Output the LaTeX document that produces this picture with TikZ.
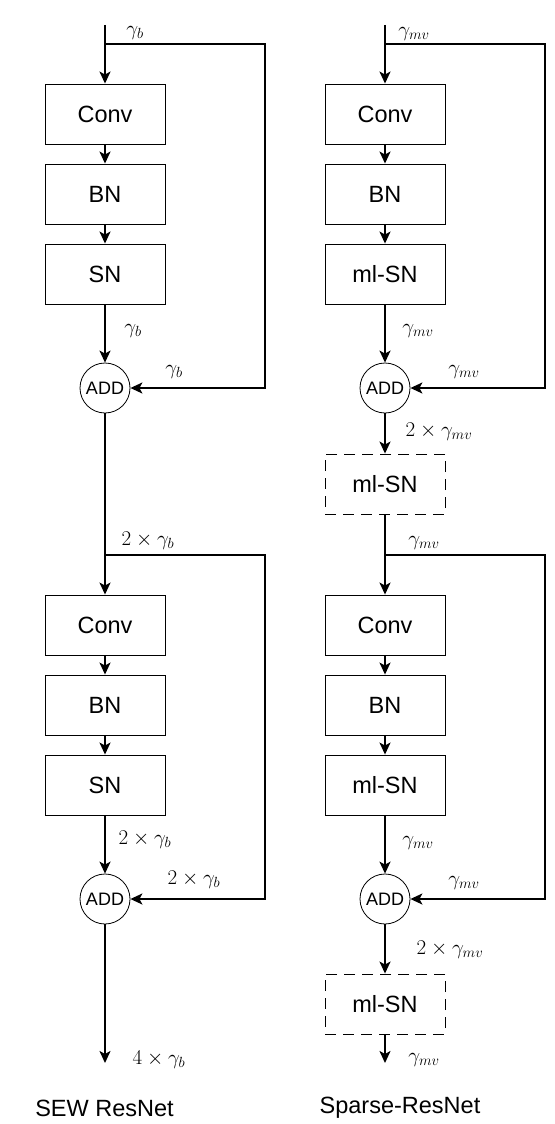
\documentclass[tikz,border=0pt]{standalone}
\usepackage{fix-cm}
\usepackage{fontspec}
\setmainfont{Liberation Sans}
\usetikzlibrary{arrows.meta}
\begin{document}
\begin{tikzpicture}[x=1pt,y=-1pt,
 blk/.style={draw, line width=0.9pt, minimum width=120pt, minimum height=60pt, inner sep=0pt, font=\fontsize{23.5}{26}\selectfont},
 dblk/.style={blk, dash pattern=on 11pt off 7pt},
 addc/.style={draw, circle, line width=0.8pt, minimum size=50pt, inner sep=0pt, font=\fontsize{18}{20}\selectfont},
 conn/.style={line width=1.8pt, -{Stealth[length=12pt,width=11pt,inset=3pt]}},
 lbl/.style={font=\fontsize{21}{24}\selectfont, inner sep=0pt},
 captxt/.style={font=\fontsize{23.5}{26}\selectfont, inner sep=0pt}]
\useasboundingbox (0,0) rectangle (554,1124);

% ---------------- SEW ResNet ----------------
\coordinate (Lin) at (105,25);
\coordinate (Lb1) at (105,44);
\coordinate (Lr1a) at (265,44);
\coordinate (Lr1b) at (265,388);
\node[blk] (Lconv1) at (105,114) {Conv};
\node[blk] (Lbn1) at (105,194) {BN};
\node[blk] (Lsn1) at (105,274) {SN};
\node[addc] (Ladd1) at (105,388) {ADD};
\draw[conn] (Lin) -- (Lconv1);
\draw[conn] (Lconv1) -- (Lbn1);
\draw[conn] (Lbn1) -- (Lsn1);
\draw[conn] (Lsn1) -- (Ladd1);
\draw[conn] (Lb1) -- (Lr1a) -- (Lr1b) -- (Ladd1);

\coordinate (Lb2) at (105,555);
\coordinate (Lr2a) at (265,555);
\coordinate (Lr2b) at (265,899);
\node[blk] (Lconv2) at (105,625) {Conv};
\node[blk] (Lbn2) at (105,705) {BN};
\node[blk] (Lsn2) at (105,785) {SN};
\node[addc] (Ladd2) at (105,899) {ADD};
\coordinate (Lout) at (105,1063);
\draw[conn] (Ladd1) -- (Lconv2);
\draw[conn] (Lconv2) -- (Lbn2);
\draw[conn] (Lbn2) -- (Lsn2);
\draw[conn] (Lsn2) -- (Ladd2);
\draw[conn] (Lb2) -- (Lr2a) -- (Lr2b) -- (Ladd2);
\draw[conn] (Ladd2) -- (Lout);

\node[lbl] (lt1) at (135,33) {$\gamma_b$};
\node[lbl] (lt2) at (133,331) {$\gamma_b$};
\node[lbl] (lt3) at (174,372) {$\gamma_b$};
\node[lbl] (lt4) at (148,541) {$2\times\gamma_b$};
\node[lbl] (lt5) at (145,840) {$2\times\gamma_b$};
\node[lbl] (lt6) at (194,880) {$2\times\gamma_b$};
\node[lbl] (lt7) at (159,1060) {$4\times\gamma_b$};
\node[captxt] (lcap) at (104.5,1108) {SEW ResNet};

% ---------------- Sparse-ResNet ----------------
\coordinate (Rin) at (385,25);
\coordinate (Rb1) at (385,44);
\coordinate (Rr1a) at (545,44);
\coordinate (Rr1b) at (545,388);
\node[blk] (Rconv1) at (385,114) {Conv};
\node[blk] (Rbn1) at (385,194) {BN};
\node[blk] (Rsn1) at (385,274) {ml-SN};
\node[addc] (Radd1) at (385,388) {ADD};
\node[dblk] (Rd1) at (385,484) {ml-SN};
\draw[conn] (Rin) -- (Rconv1);
\draw[conn] (Rconv1) -- (Rbn1);
\draw[conn] (Rbn1) -- (Rsn1);
\draw[conn] (Rsn1) -- (Radd1);
\draw[conn] (Rb1) -- (Rr1a) -- (Rr1b) -- (Radd1);
\draw[conn] (Radd1) -- (Rd1);

\coordinate (Rb2) at (385,555);
\coordinate (Rr2a) at (545,555);
\coordinate (Rr2b) at (545,899);
\node[blk] (Rconv2) at (385,625) {Conv};
\node[blk] (Rbn2) at (385,705) {BN};
\node[blk] (Rsn2) at (385,785) {ml-SN};
\node[addc] (Radd2) at (385,899) {ADD};
\node[dblk] (Rd2) at (385,1004) {ml-SN};
\coordinate (Rout) at (385,1063);
\draw[conn] (Rd1) -- (Rconv2);
\draw[conn] (Rconv2) -- (Rbn2);
\draw[conn] (Rbn2) -- (Rsn2);
\draw[conn] (Rsn2) -- (Radd2);
\draw[conn] (Rb2) -- (Rr2a) -- (Rr2b) -- (Radd2);
\draw[conn] (Radd2) -- (Rd2);
\draw[conn] (Rd2) -- (Rout);

\node[lbl] (rt1) at (414,34) {$\gamma_{mv}$};
\node[lbl] (rt2) at (418,331) {$\gamma_{mv}$};
\node[lbl] (rt3) at (464,372) {$\gamma_{mv}$};
\node[lbl] (rt4) at (439,432) {$2\times\gamma_{mv}$};
\node[lbl] (rt5) at (424,543) {$\gamma_{mv}$};
\node[lbl] (rt6) at (418,843) {$\gamma_{mv}$};
\node[lbl] (rt7) at (464,883) {$\gamma_{mv}$};
\node[lbl] (rt8) at (450,950) {$2\times\gamma_{mv}$};
\node[lbl] (rt9) at (424,1060) {$\gamma_{mv}$};
\node[captxt] (rcap) at (400,1108) {Sparse-ResNet};
\end{tikzpicture}
\end{document}
